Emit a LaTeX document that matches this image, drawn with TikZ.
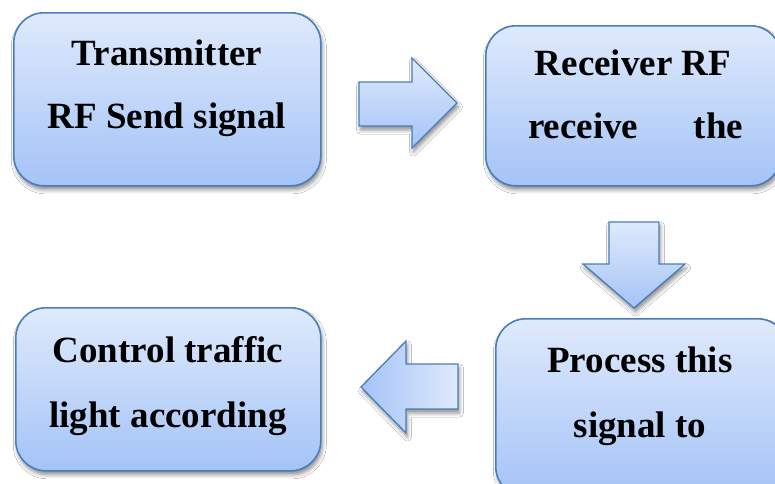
\documentclass[tikz,border=0pt]{standalone}
\usepackage{fontspec}
\setmainfont{Liberation Serif}
\usetikzlibrary{shadows.blur}
\definecolor{boxtop}{RGB}{223,234,252}
\definecolor{boxbot}{RGB}{164,195,247}
\definecolor{edge}{RGB}{74,126,187}
\tikzset{
  softshadow/.style={blur shadow={shadow xshift=1.5pt, shadow yshift=-4pt,
      shadow blur radius=4pt, shadow opacity=45}},
  stepbox/.style={draw=edge, line width=1.6pt, rounded corners=30pt,
      top color=boxtop, bottom color=boxbot, softshadow,
      anchor=north west, inner sep=0pt},
  blockarrow/.style={draw=edge, line width=1.3pt, line join=miter, softshadow},
  lbl/.style={anchor=base, inner sep=0pt, font=\fontsize{37}{44}\selectfont\bfseries},
}
\begin{document}
\begin{tikzpicture}[x=1pt, y=-1pt]
  \fill[white] (0,0) rectangle (775,483);
  \useasboundingbox (0,0) rectangle (775,483);
  \clip (0,0) rectangle (775,483);

  % process boxes
  \node[stepbox, minimum width=307pt, minimum height=173pt] (tx) at (13,12) {};
  \node[stepbox, minimum width=295pt, minimum height=160pt] (rx) at (485,25) {};
  \node[stepbox, minimum width=292pt, minimum height=178pt] (proc) at (495,318) {};
  \node[stepbox, minimum width=305pt, minimum height=163pt] (ctrl) at (15,307) {};

  % box texts
  \node[lbl] (tx1) at (167,65) {Transmitter};
  \node[lbl] (tx2) at (167,128) {RF Send signal};
  \node[lbl] (rx1) at (633,75) {Receiver RF};
  \node[lbl] (rx2) at (635.5,138) {\makebox[215pt][s]{receive the}};
  \node[lbl] (pr1) at (640,372) {Process this};
  \node[lbl] (pr2) at (640,437) {signal to};
  \node[lbl] (ct1) at (168,362) {Control traffic};
  \node[lbl] (ct2) at (168,427) {light according};

  % block arrows between the steps
  \path[blockarrow, top color=boxtop, bottom color=boxbot]
    (359,82) -- (412,82) -- (412,58) -- (457,103) -- (412,148)
    -- (412,126) -- (359,126) -- cycle;
  \path[blockarrow, top color=boxtop, bottom color=boxbot]
    (609,222) -- (659,222) -- (659,264) -- (685,264) -- (634,308)
    -- (583,264) -- (609,264) -- cycle;
  \path[blockarrow, left color=boxbot, right color=boxtop]
    (458,364) -- (406,364) -- (406,341) -- (361,387) -- (406,433)
    -- (406,409) -- (458,409) -- cycle;
\end{tikzpicture}
\end{document}
